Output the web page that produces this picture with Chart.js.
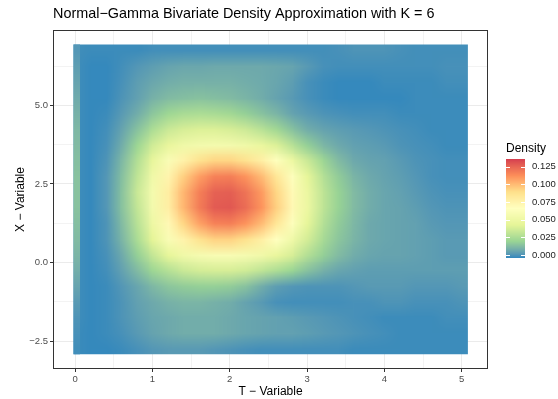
<!DOCTYPE html>
<html><head><meta charset="utf-8">
<script src="https://cdn.jsdelivr.net/npm/chart.js@4.4.1/dist/chart.umd.min.js"></script>
<style>html,body{margin:0;padding:0;background:#fff}canvas{display:block}</style>
</head><body>
<canvas id="c" width="558" height="399"></canvas>
<script>
// ---- data ----
const tValues = [0,0.2,0.4,0.6,0.8,1.0,1.2,1.4,1.6,1.8,2.0,2.2,2.4,2.6,2.8,3.0,3.2,3.4,3.6,3.8,4.0,4.2,4.4,4.6,4.8,5.0];
const xValues = [6.75,6.25,5.75,5.25,4.75,4.25,3.75,3.25,2.75,2.25,1.75,1.25,0.75,0.25,-0.25,-0.75,-1.25,-1.75,-2.25,-2.75];
const dX6_75  = [-.002,-.0026,-.0026,-.0026,-.0026,-.0017,-.0017,-.0017,-.0017,-.0017,-.0017,-.0017,-.0017,-.0017,-.0017,-.0017,-.0017,-.0009,.000,.000,.000,-.0009,-.0017,-.0017,-.0017,-.0017];
const dX6_25  = [-.002,-.0035,-.0035,-.0017,.001,.003,.005,.006,.006,.0066,.0066,.0066,.0066,.006,.005,.002,-.0009,-.0017,-.0017,-.0017,-.0017,-.0017,-.0017,-.0017,-.0009,-.0009];
const dX5_75  = [-.002,-.0035,-.0035,-.0009,.003,.006,.008,.009,.009,.009,.009,.008,.007,.0055,.003,-.0009,-.0026,-.0035,-.0035,-.0035,-.0026,-.0026,-.0026,-.0026,-.0017,-.0017];
const dX5_25  = [-.002,-.0035,-.0035,.000,.004,.0089,.012,.013,.014,.013,.012,.010,.0078,.0047,.002,-.0009,-.0026,-.0035,-.0035,-.0035,-.0035,-.0035,-.0026,-.0026,-.0026,-.0026];
const dX4_75  = [-.002,-.0035,-.0026,.002,.0078,.015,.021,.024,.025,.024,.022,.018,.014,.010,.0047,.002,.000,-.0009,-.0017,-.0017,-.0017,-.0026,-.0026,-.0026,-.0026,-.0026];
const dX4_25  = [-.002,-.0035,-.0017,.0047,.014,.025,.034,.038,.040,.040,.038,.035,.029,.022,.014,.0078,.0047,.003,.002,.001,.000,-.0009,-.0017,-.0026,-.0026,-.0026];
const dX3_75  = [-.002,-.0035,-.0009,.0078,.021,.036,.046,.052,.055,.056,.055,.052,.047,.040,.029,.018,.011,.0066,.004,.003,.002,.000,-.0009,-.0017,-.0026,-.0026];
const dX3_25  = [-.002,-.0035,.000,.011,.027,.045,.060,.076,.087,.092,.092,.087,.078,.065,.049,.034,.021,.012,.0066,.0047,.004,.002,.000,-.0009,-.0017,-.0017];
const dX2_75  = [-.002,-.0035,.001,.013,.031,.052,.074,.094,.108,.116,.117,.111,.100,.084,.064,.044,.028,.017,.010,.0066,.0047,.003,.001,-.0009,-.0017,-.0017];
const dX2_25  = [-.002,-.0035,.001,.014,.034,.056,.079,.101,.117,.126,.127,.121,.109,.092,.070,.048,.031,.019,.012,.0078,.0055,.004,.002,.000,-.0009,-.0009];
const dX1_75  = [-.002,-.0035,.001,.014,.032,.055,.078,.101,.118,.128,.129,.123,.111,.094,.071,.049,.031,.019,.012,.0078,.0055,.0047,.003,.001,.000,.000];
const dX1_25  = [-.002,-.0035,.000,.012,.029,.050,.071,.092,.107,.116,.117,.111,.100,.084,.064,.044,.028,.017,.011,.0066,.0055,.0047,.004,.002,.001,.001];
const dX0_75  = [-.002,-.0035,.000,.010,.025,.043,.060,.075,.087,.093,.093,.088,.078,.066,.052,.037,.024,.015,.010,.0066,.0055,.0047,.004,.003,.002,.002];
const dX0_25  = [-.002,-.0035,-.0009,.0066,.018,.032,.044,.052,.057,.059,.059,.057,.053,.046,.038,.027,.018,.012,.0078,.0055,.0047,.0047,.004,.003,.002,.002];
const dXm0_25 = [-.002,-.0035,-.0017,.004,.012,.021,.028,.034,.037,.038,.038,.036,.031,.026,.020,.014,.0089,.0055,.004,.003,.003,.003,.003,.003,.003,.003];
const dXm0_75 = [-.002,-.0035,-.0026,.001,.0055,.011,.015,.017,.018,.018,.017,.014,.0078,.003,.001,.000,.000,.000,.001,.002,.002,.002,.001,.001,.001,.002];
const dXm1_25 = [-.002,-.0035,-.0026,.000,.004,.0066,.0089,.010,.010,.0089,.0078,.0047,.002,-.0009,-.0017,-.0017,-.0017,-.0017,-.0009,-.0009,.000,.000,-.0009,-.0009,-.0009,.000];
const dXm1_75 = [-.002,-.0035,-.0026,.000,.003,.0055,.0066,.0078,.0078,.0078,.0066,.0055,.0047,.004,.003,.002,.001,.000,-.0009,-.0017,-.0026,-.0026,-.0026,-.0026,-.0017,-.0017];
const dXm2_25 = [-.0026,-.0035,-.0026,-.0009,.002,.0047,.0066,.0078,.0078,.0078,.0066,.0055,.0047,.004,.004,.003,.002,.001,.000,-.0009,-.0017,-.0026,-.0026,-.0026,-.0026,-.0026];
const dXm2_75 = [-.0026,-.0035,-.0035,-.0026,-.0009,.001,.002,.002,.002,.001,.000,-.0009,-.0017,-.0017,-.0017,-.0017,-.0017,-.0017,-.0026,-.0026,-.0026,-.0026,-.0026,-.0026,-.0026,-.0026];
const densityRows = [dX6_75,dX6_25,dX5_75,dX5_25,dX4_75,dX4_25,dX3_75,dX3_25,dX2_75,dX2_25,dX1_75,dX1_25,dX0_75,dX0_25,dXm0_25,dXm0_75,dXm1_25,dXm1_75,dXm2_25,dXm2_75];
// thin column at T ≈ 0 (T from -0.02 to 0.06), one value per X row
const edgeStripT = [-0.02,0.06];
const edgeStrip = [.001,.003,.005,.007,.009,.011,.012,.013,.014,.014,.014,.013,.012,.010,.008,.005,.002,.000,-.001,-.002];

const tTicks = [0,1,2,3,4,5];
const tGridLines = [0,0.5,1,1.5,2,2.5,3,3.5,4,4.5,5];
const xTicks = [-2.5,0,2.5,5];
const xGridLines = [-2.5,-1.25,0,1.25,2.5,3.75,5,6.25];
const legendTicks = [0,0.025,0.05,0.075,0.1,0.125];
const legendLabels = ['0.000','0.025','0.050','0.075','0.100','0.125'];
const fillLimits = [-0.0038,0.1359];
const paletteSpectral = ['#3288BD','#99D594','#E6F598','#FFFFBF','#FEE08B','#FC8D59','#D53E4F'];
const rasterT = [-0.02,5.08];
const rasterX = [-2.92,6.94];

// ---- colour scale (Lab interpolation like ggplot) ----
function hex2rgb(h){return [parseInt(h.slice(1,3),16),parseInt(h.slice(3,5),16),parseInt(h.slice(5,7),16)];}
function lin(c){c/=255;return c<=0.04045?c/12.92:Math.pow((c+0.055)/1.055,2.4);}
function delin(c){c=c<=0.0031308?12.92*c:1.055*Math.pow(c,1/2.4)-0.055;return Math.max(0,Math.min(255,Math.round(c*255)));}
const WN=[0.95047,1,1.08883];
function rgb2lab(rgb){const [r,g,b]=rgb.map(lin);
 const X=(0.4124564*r+0.3575761*g+0.1804375*b)/WN[0],Y=(0.2126729*r+0.7151522*g+0.0721750*b)/WN[1],Z=(0.0193339*r+0.1191920*g+0.9503041*b)/WN[2];
 const f=t=>t>0.008856?Math.cbrt(t):7.787*t+16/116;
 return [116*f(Y)-16,500*(f(X)-f(Y)),200*(f(Y)-f(Z))];}
function lab2rgb([L,a,b]){const fy=(L+16)/116,fx=fy+a/500,fz=fy-b/200;
 const fi=t=>{const t3=t*t*t;return t3>0.008856?t3:(t-16/116)/7.787;};
 const X=fi(fx)*WN[0],Y=fi(fy)*WN[1],Z=fi(fz)*WN[2];
 const r=3.2404542*X-1.5371385*Y-0.4985314*Z,g=-0.9692660*X+1.8760108*Y+0.0415560*Z,bb=0.0556434*X-0.2040259*Y+1.0572252*Z;
 return [delin(r),delin(g),delin(bb)];}
const palLab = paletteSpectral.map(h=>rgb2lab(hex2rgb(h)));
function colourFor(v){let f=(v-fillLimits[0])/(fillLimits[1]-fillLimits[0]);f=Math.max(0,Math.min(1,f));
 const p=f*(palLab.length-1);const i=Math.min(Math.floor(p),palLab.length-2);const u=p-i;
 const A=palLab[i],B=palLab[i+1];return lab2rgb([A[0]+(B[0]-A[0])*u,A[1]+(B[1]-A[1])*u,A[2]+(B[2]-A[2])*u]);}

const FONT='"Liberation Sans", Arial, Helvetica, sans-serif';

function gridImage(rows,nC,nR){
 const off=document.createElement('canvas');off.width=nC;off.height=nR;
 const o=off.getContext('2d');const img=o.createImageData(nC,nR);
 for(let r=0;r<nR;r++)for(let c=0;c<nC;c++){const col=colourFor(rows(r,c));const k=(r*nC+c)*4;
  img.data[k]=col[0];img.data[k+1]=col[1];img.data[k+2]=col[2];img.data[k+3]=255;}
 o.putImageData(img,0,0);return off;}

// ---- raster drawn through the chart scales ----
const rasterPlugin = {
 id:'raster',
 beforeDatasetsDraw(chart){
  const {ctx} = chart; const sx=chart.scales.x, sy=chart.scales.y;
  const nC=tValues.length,nR=xValues.length;
  const off=gridImage((r,c)=>densityRows[r][c],nC,nR);
  const strip=gridImage((r)=>edgeStrip[r],1,nR);
  const dT=tValues[1]-tValues[0], dX=xValues[0]-xValues[1];
  const l=sx.getPixelForValue(tValues[0]-dT/2), rr=sx.getPixelForValue(tValues[nC-1]+dT/2);
  const t=sy.getPixelForValue(xValues[0]+dX/2), b=sy.getPixelForValue(xValues[nR-1]-dX/2);
  const cl=sx.getPixelForValue(rasterT[0]), cr=sx.getPixelForValue(rasterT[1]);
  const ct=sy.getPixelForValue(rasterX[1]), cb=sy.getPixelForValue(rasterX[0]);
  ctx.save();ctx.beginPath();ctx.rect(cl,ct,cr-cl,cb-ct);ctx.clip();
  ctx.imageSmoothingEnabled=true;ctx.imageSmoothingQuality='low';
  ctx.drawImage(off,l,t,rr-l,b-t);
  const sl=sx.getPixelForValue(edgeStripT[0]), sr=sx.getPixelForValue(edgeStripT[1]);
  ctx.drawImage(strip,sl,t,sr-sl,b-t);
  ctx.restore();
 }
};

// ---- panel border, title, colourbar legend ----
const decoPlugin = {
 id:'deco',
 afterDraw(chart){
  const {ctx,chartArea:a}=chart;
  ctx.save();
  ctx.strokeStyle='#333333';ctx.lineWidth=1;
  ctx.strokeRect(Math.round(a.left)+0.5,Math.round(a.top)+0.5,Math.round(a.right-a.left)-1,Math.round(a.bottom-a.top)-1);
  ctx.fillStyle='#000';ctx.font='14.4px '+FONT;ctx.textBaseline='alphabetic';ctx.textAlign='left';
  ctx.fillText('Normal\u2212Gamma Bivariate Density Approximation with K = 6',a.left,18);
  // legend
  const bx=506,bw=19,yTop=159,yBot=257.7;
  ctx.font='12px '+FONT;ctx.fillText('Density',bx,152);
  const vpp=(fillLimits[1]-fillLimits[0])/(yBot-yTop);
  for(let y=yTop;y<yBot;y++){const v=fillLimits[1]-(y-yTop+0.5)*vpp;const c=colourFor(v);
   ctx.fillStyle='rgb('+c[0]+','+c[1]+','+c[2]+')';ctx.fillRect(bx,y,bw,1);}
  ctx.font='9.5px '+FONT;ctx.textBaseline='middle';
  legendTicks.forEach((v,i)=>{const y=yTop+(fillLimits[1]-v)/vpp;
   ctx.strokeStyle='#ffffff';ctx.lineWidth=1;ctx.beginPath();
   ctx.moveTo(bx,Math.round(y)+0.5);ctx.lineTo(bx+4,Math.round(y)+0.5);
   ctx.moveTo(bx+bw-4,Math.round(y)+0.5);ctx.lineTo(bx+bw,Math.round(y)+0.5);ctx.stroke();
   ctx.fillStyle='#222';ctx.fillText(legendLabels[i],532,y);});
  ctx.restore();
 }
};

const isMajorT=v=>tTicks.some(m=>Math.abs(m-v)<1e-9);
const isMajorX=v=>xTicks.some(m=>Math.abs(m-v)<1e-9);
const fmtX=v=>(v<0?'\u2212':'')+Math.abs(v).toFixed(1);

new Chart(document.getElementById('c').getContext('2d'),{
 type:'scatter',
 data:{datasets:[{data:[],pointRadius:0}]},
 options:{
  responsive:false,animation:false,devicePixelRatio:1,
  layout:{padding:{left:0,right:70,top:30,bottom:0}},
  plugins:{legend:{display:false},tooltip:{enabled:false},title:{display:false}},
  scales:{
   x:{type:'linear',min:-0.285,max:5.34,
    afterBuildTicks:s=>{s.ticks=tGridLines.map(v=>({value:v}));},
    afterFit:s=>{s.height=30;},
    ticks:{autoSkip:false,maxRotation:0,padding:2,color:'#4D4D4D',font:{family:FONT,size:9.5},
     callback:v=>isMajorT(v)?String(v):''},
    grid:{color:c=>isMajorT(c.tick.value)?'#EBEBEB':'#F3F3F3',lineWidth:1,tickLength:3,
     tickColor:c=>isMajorT(c.tick.value)?'#333333':'rgba(0,0,0,0)'},
    border:{display:false},
    title:{display:true,text:'T \u2212 Variable',color:'#000',font:{family:FONT,size:12},padding:{top:0,bottom:0}}
   },
   y:{type:'linear',min:-3.39,max:7.40,
    afterBuildTicks:s=>{s.ticks=xGridLines.map(v=>({value:v}));},
    afterFit:s=>{s.width=53;},
    ticks:{autoSkip:false,padding:2,color:'#4D4D4D',font:{family:FONT,size:9.5},
     callback:v=>isMajorX(v)?fmtX(v):''},
    grid:{color:c=>isMajorX(c.tick.value)?'#EBEBEB':'#F3F3F3',lineWidth:1,tickLength:3,
     tickColor:c=>isMajorX(c.tick.value)?'#333333':'rgba(0,0,0,0)'},
    border:{display:false},
    title:{display:true,text:'X \u2212 Variable',color:'#000',font:{family:FONT,size:12},padding:{top:13,bottom:0}}
   }
  }
 },
 plugins:[rasterPlugin,decoPlugin]
});
</script>
</body></html>
